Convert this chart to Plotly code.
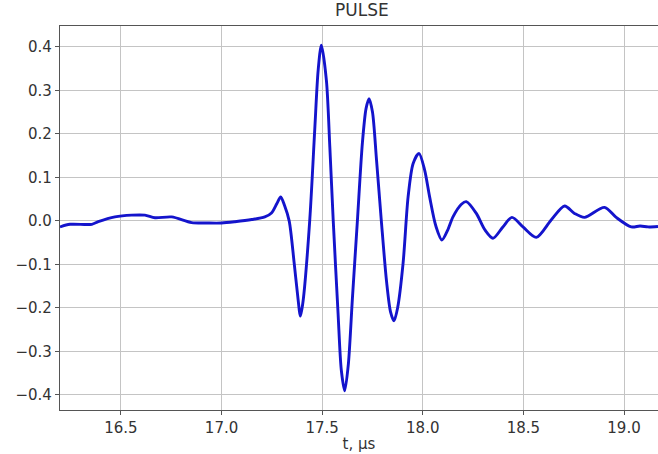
import plotly.graph_objects as go

# time (microseconds) and amplitude
t_us = [16.197, 16.247, 16.355, 16.387, 16.470, 16.553, 16.619, 16.669, 16.752, 16.851,
        16.930, 17.000, 17.066, 17.150, 17.215, 17.248, 17.275, 17.294, 17.313, 17.336,
        17.361, 17.377, 17.392, 17.405, 17.438, 17.463, 17.480, 17.496, 17.521, 17.538,
        17.555, 17.579, 17.595, 17.612, 17.630, 17.650, 17.675, 17.700, 17.718, 17.733,
        17.750, 17.770, 17.794, 17.820, 17.840, 17.857, 17.875, 17.902, 17.927, 17.952,
        17.981, 18.009, 18.034, 18.065, 18.095, 18.125, 18.150, 18.192, 18.216, 18.266,
        18.309, 18.349, 18.398, 18.443, 18.498, 18.564, 18.638, 18.705, 18.754, 18.804,
        18.903, 18.961, 19.036, 19.080, 19.120, 19.169]
amp = [-0.014, -0.008, -0.008, -0.002, 0.009, 0.013, 0.013, 0.007, 0.009, -0.004,
       -0.005, -0.005, -0.002, 0.003, 0.009, 0.018, 0.040, 0.055, 0.035, 0.000,
       -0.098, -0.167, -0.219, -0.185, 0.000, 0.209, 0.346, 0.404, 0.323, 0.170,
       0.000, -0.213, -0.343, -0.391, -0.330, -0.180, 0.000, 0.180, 0.258, 0.281,
       0.250, 0.140, 0.000, -0.140, -0.210, -0.230, -0.200, -0.098, 0.055, 0.132,
       0.155, 0.117, 0.055, -0.012, -0.044, -0.020, 0.009, 0.038, 0.044, 0.017,
       -0.021, -0.040, -0.014, 0.008, -0.014, -0.038, 0.002, 0.034, 0.017, 0.008,
       0.031, 0.008, -0.014, -0.012, -0.014, -0.013]

x_ticks = [16.5, 17.0, 17.5, 18.0, 18.5, 19.0]
y_ticks = [-0.4, -0.3, -0.2, -0.1, 0.0, 0.1, 0.2, 0.3, 0.4]

fig = go.Figure()
fig.add_trace(go.Scatter(x=t_us, y=amp, mode="lines",
                         line=dict(color="#1414cc", width=2.9, shape="spline", smoothing=0.8),
                         showlegend=False))

font = dict(family="DejaVu Sans", size=15, color="#333333")
fig.update_layout(
    width=658, height=454,
    margin=dict(l=60, r=0, t=26, b=44),
    paper_bgcolor="white", plot_bgcolor="white",
    title=dict(text="PULSE", x=0.55, xanchor="center", y=0.977, yanchor="middle",
               font=dict(family="DejaVu Sans", size=17, color="#333333")),
    font=font,
    xaxis=dict(range=[16.197, 19.169], tickvals=x_ticks, ticktext=[f"{v:.1f}" for v in x_ticks],
               showgrid=True, gridcolor="#c4c4c4", gridwidth=1.2,
               showline=True, linecolor="#555555", linewidth=1.3, mirror=True,
               ticks="outside", ticklen=4, tickcolor="#555555", zeroline=False,
               tickfont=dict(family="DejaVu Sans", size=15, color="#333333"),
               title=dict(text="t, μs", standoff=2,
                          font=dict(family="DejaVu Sans", size=15, color="#333333"))),
    yaxis=dict(range=[-0.435, 0.448], tickvals=y_ticks,
               ticktext=[("\u2212" if v < 0 else "") + f"{abs(v):.1f}" for v in y_ticks],
               showgrid=True, gridcolor="#c4c4c4", gridwidth=1.2,
               showline=True, linecolor="#555555", linewidth=1.3,
               ticks="outside", ticklen=4, tickcolor="#555555", zeroline=False,
               tickfont=dict(family="DejaVu Sans", size=15, color="#333333")),
)
fig.write_html("out.html")
